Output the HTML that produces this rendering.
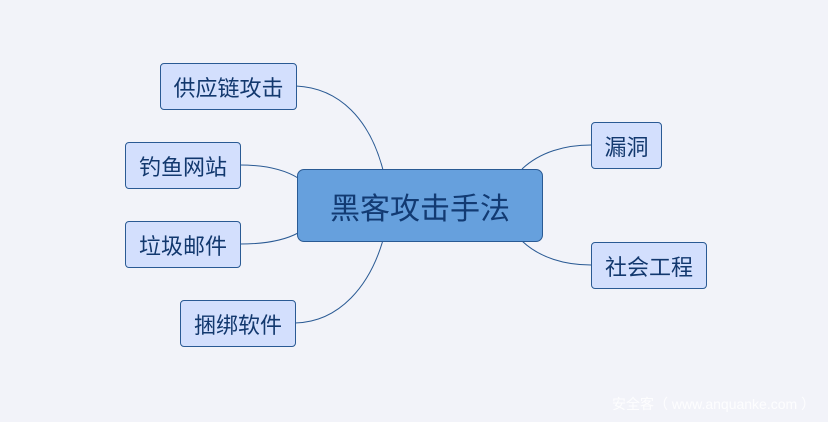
<!DOCTYPE html>
<html><head><meta charset="utf-8"><style>
body{margin:0;width:828px;height:422px;background:#f2f3f9;position:relative;overflow:hidden;font-family:"Liberation Sans","Noto Sans CJK SC",sans-serif}
.b{position:absolute;box-sizing:border-box;border:1px solid #2a5a94;border-radius:4px;background:#d3dffd;color:#12386e;font-size:22px;display:flex;align-items:center;justify-content:center}
.c{background:#66a0dd;border-radius:7px;font-size:30px;color:#123a72}
.w{position:absolute;left:612px;top:394px;color:#fff;font-size:14px;opacity:.9;white-space:nowrap}
</style></head><body>
<svg width="828" height="422" style="position:absolute;left:0;top:0" fill="none" stroke="#2a5a94" stroke-width="1">
<path d="M296 86 C340 88 370 120 383 170"/>
<path d="M240 165 C265 165 285 170 298 178"/>
<path d="M240 244 C265 244 285 240 298 233"/>
<path d="M295 323 C340 322 370 285 383 240"/>
<path d="M522 169 C540 152 565 145 591 145"/>
<path d="M522 241 C540 258 565 265 591 265"/>
</svg>
<div class="b" style="left:160px;top:63px;width:137px;height:47px">供应链攻击</div>
<div class="b" style="left:125px;top:142px;width:116px;height:47px">钓鱼网站</div>
<div class="b" style="left:125px;top:221px;width:116px;height:47px">垃圾邮件</div>
<div class="b" style="left:180px;top:300px;width:116px;height:47px">捆绑软件</div>
<div class="b c" style="left:297px;top:169px;width:246px;height:73px">黑客攻击手法</div>
<div class="b" style="left:591px;top:122px;width:71px;height:47px">漏洞</div>
<div class="b" style="left:591px;top:242px;width:116px;height:47px">社会工程</div>
<div class="w">安全客（ www.anquanke.com ）</div>
</body></html>
